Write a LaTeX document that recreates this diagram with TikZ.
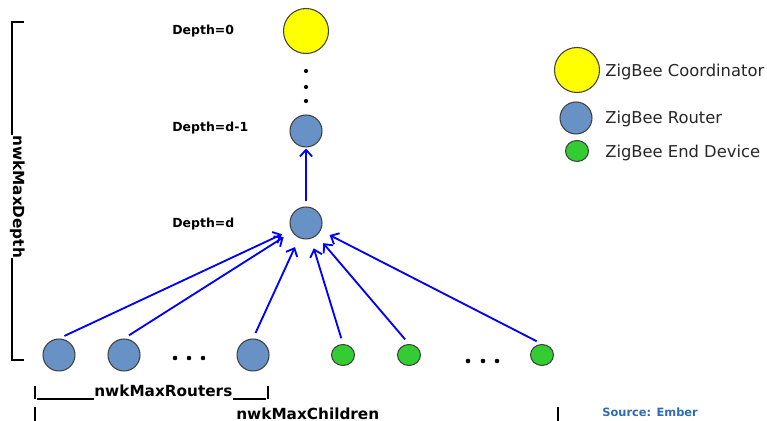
\documentclass[tikz,border=0pt]{standalone}
\usepackage{fontspec}
\setmainfont{DejaVu Sans}
\usetikzlibrary{arrows.meta,shapes.geometric}
\definecolor{zbcoord}{RGB}{255,255,0}
\definecolor{zbrouter}{RGB}{104,146,198}
\definecolor{zbend}{RGB}{51,204,51}
\definecolor{zbsource}{RGB}{46,108,178}
\begin{document}
\begin{tikzpicture}[x=0.02cm,y=-0.02cm,>={Straight Barb[length=3.8pt,width=7pt]},
  coord/.style={circle,draw=black!75,line width=.6pt,fill=zbcoord,minimum size=.9cm,inner sep=0pt},
  router/.style={circle,draw=black!75,line width=.6pt,fill=zbrouter,minimum size=.64cm,inner sep=0pt},
  enddev/.style={ellipse,draw=black!75,line width=.6pt,fill=zbend,minimum width=.46cm,minimum height=.42cm,inner sep=0pt},
  link/.style={->,blue,line width=1.05pt},
  lvl/.style={anchor=base west,inner sep=0pt,font=\fontsize{7.1}{8}\selectfont\bfseries},
  dim/.style={inner sep=0pt,font=\fontsize{8.7}{10}\selectfont\bfseries},
  legend/.style={anchor=base west,inner sep=0pt,text=black!85,font=\fontsize{9.3}{11}\selectfont},
  tick/.style={line width=1.3pt},
  bar/.style={line width=.6pt}]
\useasboundingbox (0,0) rectangle (767,421);
% tree
\node[coord] (c0) at (306,31) {};
\node[router] (rdm1) at (306,131) {};
\node[router] (rd) at (306,223) {};
\foreach \y in {71,87,101} \fill (306,\y) circle[radius=1.2pt];
\node[lvl] (l0) at (172,35) {Depth=0};
\node[lvl] (l1) at (172,132) {Depth=d-1};
\node[lvl] (l2) at (172,228) {Depth=d};
\node[router] (r1) at (59,355) {};
\node[router] (r2) at (124,355) {};
\node[router] (r3) at (253,355) {};
\node[enddev] (e1) at (343,355) {};
\node[enddev] (e2) at (409,355) {};
\node[enddev] (e3) at (542,355) {};
\foreach \x in {175,189,203} \fill (\x,358) circle[radius=1.3pt];
\foreach \x in {468,483,497} \fill (\x,361) circle[radius=1.3pt];
\draw[link,shorten <=.1cm,shorten >=.02cm] (rd) -- (rdm1);
\foreach \n in {r1,r2,r3,e1,e2,e3}
  \draw[link,shorten <=.12cm,shorten >=.2cm] (\n.north) -- (rd);
% legend
\node[coord] (lc) at (577,70) {};
\node[router] (lr) at (576,118) {};
\node[enddev] (le) at (577,151) {};
\node[legend] at (605,77) {ZigBee Coordinator};
\node[legend] at (605,124) {ZigBee Router};
\node[legend] at (605,158) {ZigBee End Device};
% dimensions
\node[dim,rotate=-90,anchor=base west] (mdepth) at (13,135) {nwkMaxDepth};
\coordinate (dtop) at (12,22);
\coordinate (dbot) at (12,360);
\draw[bar] (dtop) -- (dtop |- mdepth.base west);
\draw[bar] (dbot |- mdepth.base east) -- (dbot);
\draw[tick] (11,22) -- (24,22);
\draw[tick] (11,360) -- (24,360);
\node[dim,anchor=base west] (mrout) at (94,397) {nwkMaxRouters};
\coordinate (rl) at (37,399);
\coordinate (rr) at (266,399);
\draw[bar] (rl) -- (rl -| mrout.west);
\draw[bar] (rr -| mrout.east) -- (rr);
\draw[tick] (35,386) -- (35,399);
\draw[tick] (268,386) -- (268,399);
\node[dim,anchor=base west] (mchild) at (236,420) {nwkMaxChildren};
\draw[tick] (35,407) -- (35,421);
\draw[tick] (558,407) -- (558,421);
\node[anchor=base west,inner sep=0pt,text=zbsource,font=\fontsize{6.5}{8}\selectfont\bfseries] (src) at (602,417) {Source: Ember};
\end{tikzpicture}
\end{document}
